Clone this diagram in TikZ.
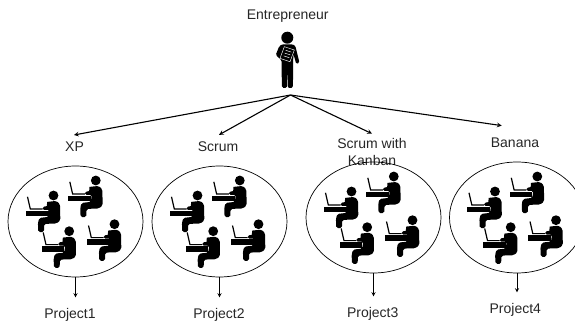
\documentclass[tikz,border=0pt]{standalone}
\usepackage{fontspec}
\setmainfont{Liberation Sans}
\usetikzlibrary{shapes.geometric}
\tikzset{
	lbl/.style={font=\fontsize{14}{17}\selectfont,inner sep=0pt,text=black!85},
	teamring/.style={draw,ellipse,line width=0.7pt,minimum width=135pt,minimum height=111pt,inner sep=0pt},
	toparrow/.style={-stealth,line width=1.1pt},
	downarrow/.style={-stealth,line width=0.8pt,shorten >=11pt},
	coder/.pic={
		\fill (0,0) circle (4.9);
		\draw[line width=1.2pt] (-26,1.3)--(-23.2,13.4)--(-11,13.4);
		\fill (-27.7,15) rectangle (-5,20.6);
		\fill[rounded corners=1.6pt] (-6.4,6.4)--(3,5.4)--(6.6,9)--(6.8,25)--(3,28)--(-9.2,28.4)--(-9.6,36.6)--(-15.2,36.6)--(-15.6,27)--(-14,22.4)--(-5,21.4)--(-4,14.4)--(-11,14.4)--(-11,11.4)--(-6.6,10.6);
	},
	teamgroup/.pic={
		\pic at (-22,-26) {coder};
		\pic at (20.3,-41) {coder};
		\pic at (-6.3,9.7) {coder};
		\pic at (39,2.7) {coder};
	},
	bossman/.pic={
		\fill (0,0) circle (6);
		\fill[rounded corners=1.4pt] (-5,6.6)--(5,6.6)--(8,8)--(12.2,25)--(9,26.4)--(6,16)--(5.6,50)--(0.5,50.4)--(0,29)--(-0.5,50.4)--(-5.4,50)--(-5.8,22.4)--(-11.6,17.4)--(-8,8.4)--cycle;
		\draw[white,line width=0.45pt] (-3,9)--(7,12.3)--(2.7,24)--(-7.3,20.7)--cycle;
		\draw[white,line width=0.45pt] (-1.6,12.6)--(4,14.4) (-2.6,15.4)--(3,17.2) (-3.6,18.2)--(2,20);
	}
}
\begin{document}
\begin{tikzpicture}[x=1pt,y=-1pt]
	\useasboundingbox (0,0) rectangle (575,323);
	\node[lbl] (entrepreneur) at (287.7,16) {Entrepreneur};
	\pic at (287.3,37.7) {bossman};
	\coordinate (root) at (290.5,95);
	\node[lbl] (xp) at (74.5,147) {XP};
	\node[lbl] (scrum) at (218,147) {Scrum};
	\node[lbl,align=center] (kanban) at (372,151.5) {Scrum with\\Kanban};
	\node[lbl] (banana) at (515,143) {Banana};
	\draw[toparrow] (root) -- ([shift={(-0.5pt,7pt)}]xp.north);
	\draw[toparrow] (root) -- ([shift={(1pt,7pt)}]scrum.north);
	\draw[toparrow] (root) -- ([yshift=4pt]kanban.north);
	\draw[toparrow] (root) -- ([shift={(-13.3pt,12.3pt)}]banana.north);
	\node[teamring] (team1) at (75.5,221.5) {};
	\node[teamring] (team2) at (219.5,221.5) {};
	\node[teamring] (team3) at (373.5,217.5) {};
	\node[teamring] (team4) at (517,217.5) {};
	\pic at (team1) {teamgroup};
	\pic at (team2) {teamgroup};
	\pic at (team3) {teamgroup};
	\pic at (team4) {teamgroup};
	\node[lbl] (project1) at (70,315) {Project1};
	\node[lbl] (project2) at (219,315) {Project2};
	\node[lbl] (project3) at (372.7,314) {Project3};
	\node[lbl] (project4) at (515.3,310) {Project4};
	\draw[downarrow] (team1.south) -- (team1.south |- project1.north);
	\draw[downarrow] (team2.south) -- (team2.south |- project2.north);
	\draw[downarrow] (team3.south) -- (team3.south |- project3.north);
	\draw[downarrow] (team4.south) -- (team4.south |- project4.north);
\end{tikzpicture}
\end{document}
